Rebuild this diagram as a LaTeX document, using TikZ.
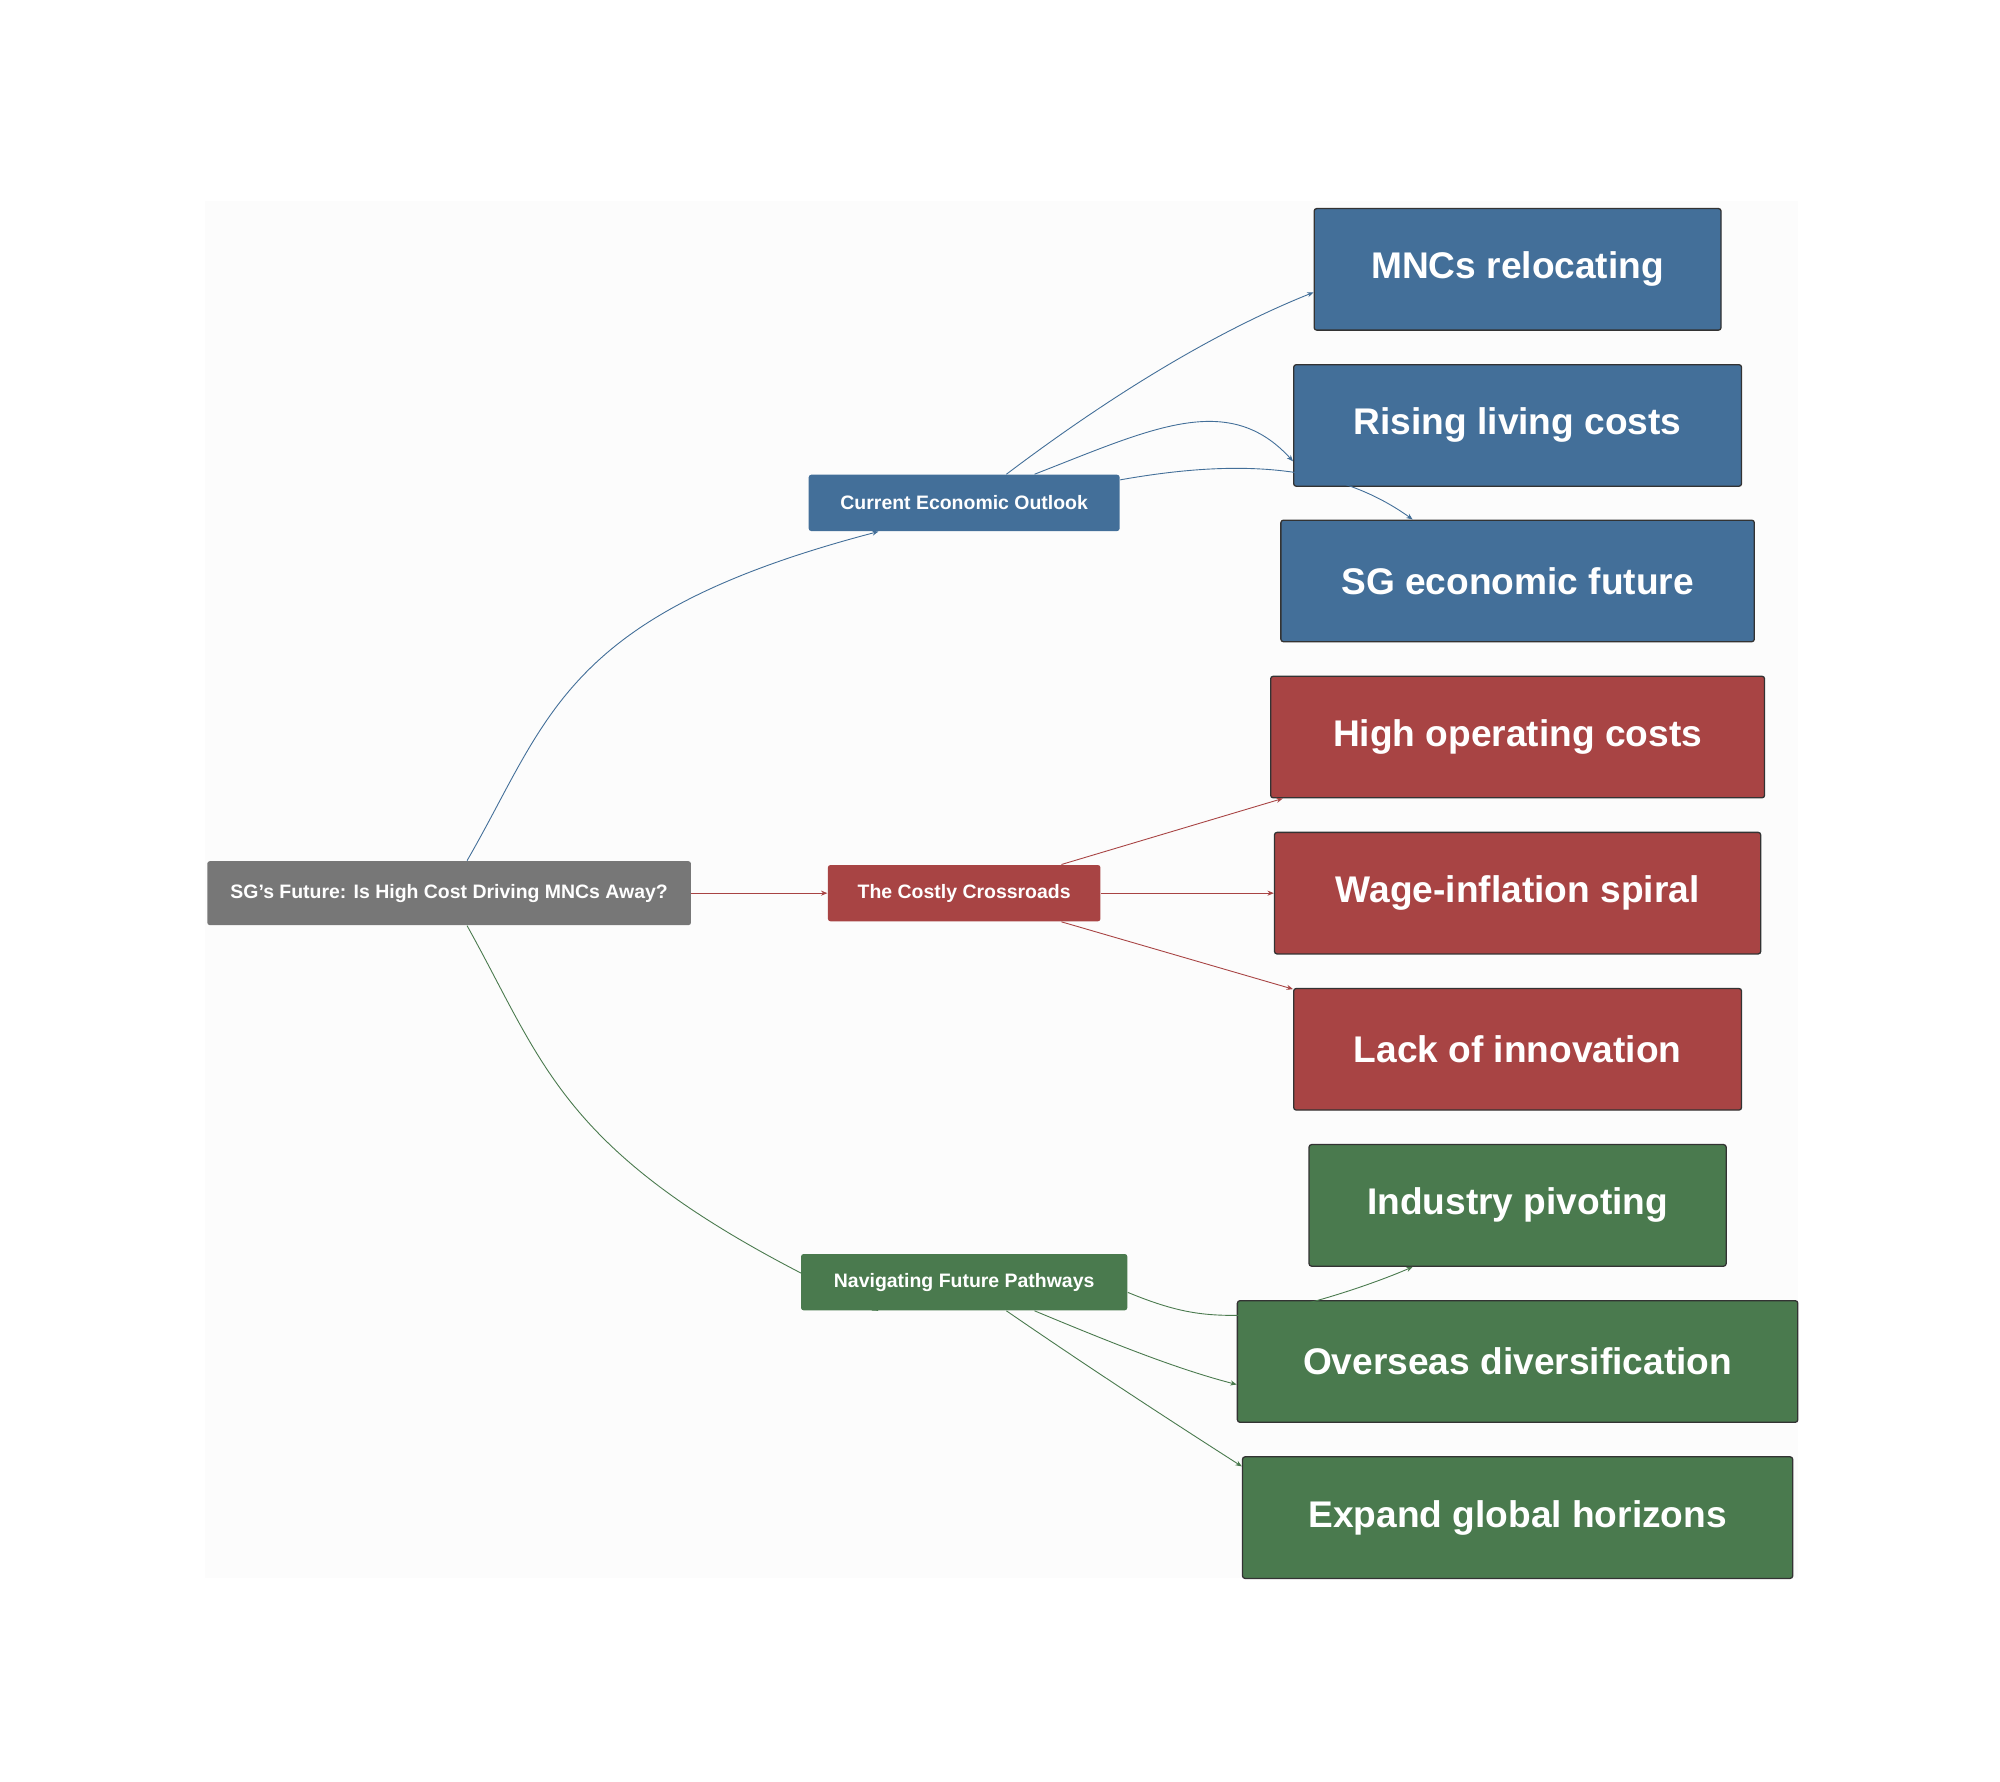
\documentclass[tikz,border=0pt]{standalone}
\usepackage{fontspec}
\setmainfont{Liberation Sans}
\usetikzlibrary{calc,arrows.meta}
\definecolor{cgray}{HTML}{777777}
\definecolor{cblue}{HTML}{436F99}
\definecolor{cred}{HTML}{A84444}
\definecolor{cgreen}{HTML}{4A7A4E}
\tikzset{
 sm/.style={rounded corners=1pt,text=white,font=\fontsize{7.6}{9}\selectfont\bfseries,inner sep=0pt},
 bg/.style={rounded corners=1pt,draw=black!80,line width=0.5pt,text=white,font=\fontsize{14.5}{17}\selectfont\bfseries,inner sep=0pt},
 con/.style={line width=0.35pt,-{Stealth[length=2.5pt,width=2pt]}}
}
\begin{document}
\begin{tikzpicture}[x=0.5pt,y=-0.5pt]
\useasboundingbox[fill=white] (0,0) rectangle (1563,1392);
\fill[black!1] (160,157) rectangle (1405,1233);
\node[sm,fill=cgray,minimum width=189pt,minimum height=25pt] (root) at (351,698) {SG's Future: Is High Cost Driving MNCs Away?};
\node[sm,fill=cblue,minimum width=121.5pt,minimum height=22pt] (cur) at (753.5,393) {Current Economic Outlook};
\node[sm,fill=cred,minimum width=106.5pt,minimum height=22pt] (cos) at (753.5,698) {The Costly Crossroads};
\node[sm,fill=cgreen,minimum width=127.5pt,minimum height=22pt] (nav) at (753.5,1002) {Navigating Future Pathways};
\node[bg,fill=cblue,minimum width=159pt,minimum height=47.5pt] (a1) at (1186,210.5) {MNCs relocating};
\node[bg,fill=cblue,minimum width=175pt,minimum height=47.5pt] (a2) at (1186,332.5) {Rising living costs};
\node[bg,fill=cblue,minimum width=185pt,minimum height=47.5pt] (a3) at (1186,454) {SG economic future};
\node[bg,fill=cred,minimum width=193pt,minimum height=47.5pt] (b1) at (1186,576) {High operating costs};
\node[bg,fill=cred,minimum width=190pt,minimum height=47.5pt] (b2) at (1186,698) {Wage-inflation spiral};
\node[bg,fill=cred,minimum width=175pt,minimum height=47.5pt] (b3) at (1186,820) {Lack of innovation};
\node[bg,fill=cgreen,minimum width=163pt,minimum height=47.5pt] (c1) at (1186,942) {Industry pivoting};
\node[bg,fill=cgreen,minimum width=219pt,minimum height=47.5pt] (c2) at (1186,1064) {Overseas diversification};
\node[bg,fill=cgreen,minimum width=215pt,minimum height=47.5pt] (c3) at (1186,1186) {Expand global horizons};
% root to middles
\draw[con,cblue] ($(root.north)+(14,0)$) .. controls (430,560) and (440,480) .. ($(cur.south)+(-67,0)$);
\draw[con,cred] (root.east) -- (cos.west);
\draw[con,cgreen] ($(root.south)+(14,0)$) .. controls (430,840) and (440,910) .. ($(nav.south)+(-67,0)$) ;
% blue
\draw[con,cblue] ($(cur.north)+(33,0)$) .. controls (880,300) and (960,255) .. ($(a1.west)+(0,18)$);
\draw[con,cblue] ($(cur.north)+(55,0)$) .. controls (900,335) and (960,305) .. ($(a2.west)+(0,28)$);
\draw[con,cblue] ($(cur.east)+(0,-18)$) .. controls (960,360) and (1040,360) .. ($(a3.north)+(-82,0)$);
% red
\draw[con,cred] ($(cos.north)+(76,0)$) -- ($(b1.south west)+(10,0)$);
\draw[con,cred] (cos.east) -- (b2.west);
\draw[con,cred] ($(cos.south)+(76,0)$) -- ($(b3.north west)+(0,1)$);
% green
\draw[con,cgreen] ($(nav.east)+(0,8)$) .. controls (920,1026) and (940,1028) .. (967,1028) .. controls (1000,1028) and (1070,1005) .. ($(c1.south)+(-82,0)$);
\draw[con,cgreen] ($(nav.south)+(55,0)$) .. controls (870,1050) and (920,1070) .. ($(c2.west)+(0,18)$);
\draw[con,cgreen] ($(nav.south)+(33,0)$) .. controls (860,1075) and (930,1120) .. ($(c3.west)+(0,-40)$);
\end{tikzpicture}
\end{document}
